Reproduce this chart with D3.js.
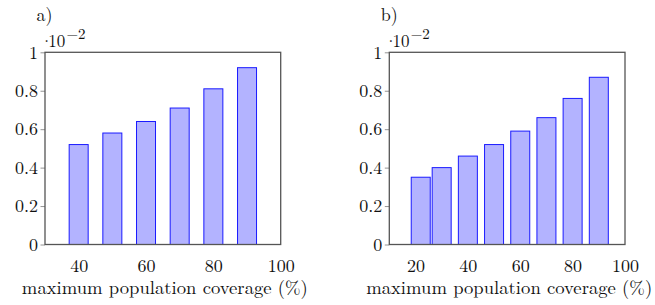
<!DOCTYPE html>
<html>
  <head>
    <meta charset="utf-8">
    <title>Population coverage bars</title>
    <script src="https://d3js.org/d3.v7.min.js"></script>
    <style>
      body { margin: 0; background: #fff; }
    </style>
  </head>
  <body>

    <script>

      // panel a)
      var xA      = [40, 50, 60, 70, 80, 90];
      var valuesA = [0.52, 0.58, 0.64, 0.71, 0.81, 0.92];
      var xTicksA = [40, 60, 80, 100];

      // panel b)
      var xB      = [22, 30, 40, 50, 60, 70, 80, 90];
      var valuesB = [0.35, 0.40, 0.46, 0.52, 0.59, 0.66, 0.76, 0.87];
      var xTicksB = [20, 40, 60, 80, 100];

      var yTicks = [0, 0.2, 0.4, 0.6, 0.8, 1];
      var xTitle = "maximum population coverage (%)";

      var FONT = "'Latin Modern Roman', 'Liberation Serif', serif";

      var svg = d3.select("body").append("svg")
        .attr("width",  655)
        .attr("height", 305);

      var y = d3.scaleLinear()
        .domain([0, 1])
        .range([244.5, 52.3]);

      function panel(label, xs, values, xTicks, xDomain, left, right) {
        var x = d3.scaleLinear().domain(xDomain).range([left, right]);
        var g = svg.append("g");

        // bars
        g.selectAll("rect.bar").data(values).enter().append("rect")
          .attr("class", "bar")
          .attr("x", function(d, i) { return x(xs[i]) - 9.5; })
          .attr("y", function(d) { return y(d); })
          .attr("width", 19)
          .attr("height", function(d) { return y(0) - y(d); })
          .attr("fill", "#b3b3ff")
          .attr("stroke", "#1a1aff")
          .attr("stroke-width", 1);

        // y axis: outward ticks, labels
        var ya = g.append("g")
          .attr("transform", "translate(" + left + ",0)")
          .call(d3.axisLeft(y).tickValues(yTicks).tickSize(4.5).tickPadding(2.5)
            .tickFormat(function(d) { return d3.format("")(+d.toFixed(1)); }));
        ya.select(".domain").remove();
        ya.selectAll(".tick line").attr("stroke", "#888").attr("stroke-width", 0.9);
        ya.selectAll(".tick text")
          .style("font-family", FONT).style("font-size", "18px").attr("fill", "#111");

        // x axis: labels only
        var xa = g.append("g")
          .attr("transform", "translate(0," + y(0) + ")")
          .call(d3.axisBottom(x).tickValues(xTicks).tickSize(0));
        xa.select(".domain").remove();
        xa.selectAll(".tick text")
          .attr("y", 27.5).attr("dy", null)
          .style("font-family", FONT).style("font-size", "18px").attr("fill", "#111");

        // frame
        g.append("rect")
          .attr("x", left).attr("y", y(1))
          .attr("width", right - left).attr("height", y(0) - y(1))
          .attr("fill", "none")
          .attr("stroke", "#555")
          .attr("stroke-width", 1.3);

        // multiplier
        g.append("text")
          .attr("x", left + 1.5).attr("y", 47)
          .attr("text-anchor", "middle")
          .style("font-family", FONT).style("font-size", "17px").attr("fill", "#111")
          .text("\u00b7");
        var m = g.append("text")
          .attr("x", left + 3.2).attr("y", 47)
          .style("font-family", FONT).style("font-size", "17px").attr("fill", "#111");
        m.append("tspan").text("10");
        m.append("tspan")
          .attr("dy", -8).attr("dx", 1.2).style("font-size", "15px")
          .text("\u22122");

        // panel label
        g.append("text")
          .attr("x", left - 8.5).attr("y", 20.5)
          .style("font-family", FONT).style("font-size", "18px").attr("fill", "#111")
          .text(label);

        // axis title
        g.append("text")
          .attr("x", (left + right) / 2 + 2).attr("y", 293.5)
          .attr("text-anchor", "middle")
          .style("font-family", FONT).style("font-size", "18px").attr("fill", "#111")
          .attr("textLength", 286)
          .attr("lengthAdjust", "spacingAndGlyphs")
          .text(xTitle);
      }

      panel("a)", xA, valuesA, xTicksA, [30, 100], 45, 280.7);
      panel("b)", xB, valuesB, xTicksB, [10, 100], 389.3, 625);

    </script>

  </body>
</html>
